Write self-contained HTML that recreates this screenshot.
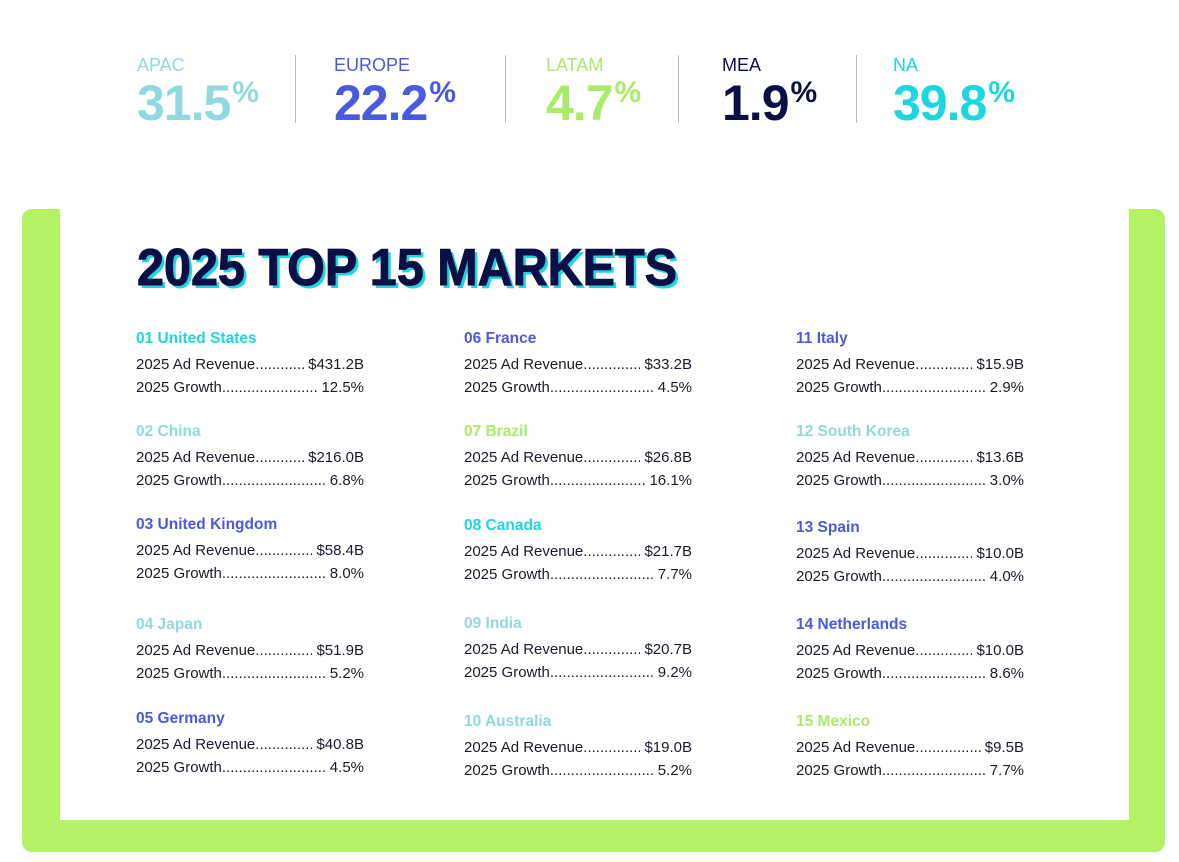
<!DOCTYPE html>
<html><head><meta charset="utf-8">
<style>
body{margin:0;width:1179px;height:862px;background:#fff;position:relative;overflow:hidden;font-family:"Liberation Sans",sans-serif;}
.abs{position:absolute;}
.rlabel{font-size:18px;top:55px;z-index:2;}
.rval{font-size:50px;font-weight:bold;top:74px;letter-spacing:-1px;z-index:2;}
.rval sup{font-size:30px;vertical-align:top;position:relative;top:2px;margin-left:2px;}
.div{width:1px;height:68px;background:#bbb;top:55px;z-index:2;}
.line{font-size:15px;color:#1a1a2e;width:228px;display:flex;white-space:nowrap;overflow:hidden;z-index:2;}
.line .d{flex:1;overflow:hidden;}
.name{font-size:15.5px;font-weight:bold;z-index:2;}
</style></head><body>
<div id="topbar"></div>
<svg class="abs" style="left:0;top:0" width="1179" height="862">
<rect x="22" y="209" width="1143" height="643" rx="10" fill="#b2f264"/>
<rect x="60" y="200" width="1069" height="620" fill="#fff"/>
<text x="140" y="288" font-size="52" font-weight="bold" fill="#1cd6e0" textLength="540" lengthAdjust="spacingAndGlyphs" font-family="Liberation Sans">2025 TOP 15 MARKETS</text>
<text x="137" y="285" font-size="52" font-weight="bold" fill="#0c0f45" stroke="#0c0f45" stroke-width="1" textLength="540" lengthAdjust="spacingAndGlyphs" font-family="Liberation Sans">2025 TOP 15 MARKETS</text>
</svg>
<div id="markets"></div>
<script>
const regions=["APAC","EUROPE","LATAM","MEA","NA"];
const shares=["31.5","22.2","4.7","1.9","39.8"];
const regionColors=["#8fd9df","#4a5ae0","#a9ec6a","#0c0f45","#1cd6e0"];
const regionX=[137,334,546,722,893];
const dividerX=[295,505,678,856];
const markets=["United States","China","United Kingdom","Japan","Germany","France","Brazil","Canada","India","Australia","Italy","South Korea","Spain","Netherlands","Mexico"];
const marketRegion=[4,0,1,0,1,1,2,4,0,0,1,0,1,1,2];
const revenue=["431.2","216.0","58.4","51.9","40.8","33.2","26.8","21.7","20.7","19.0","15.9","13.6","10.0","10.0","9.5"];
const growth=["12.5","6.8","8.0","5.2","4.5","4.5","16.1","7.7","9.2","5.2","2.9","3.0","4.0","8.6","7.7"];
const colX=[136,464,796];
const rowY=[[330,423,516,616,710],[330,423,517,615,713],[330,423,519,616,713]];
const topEl=document.getElementById('topbar');
regions.forEach((r,i)=>{
  const l=document.createElement('div');l.className='abs rlabel';l.style.left=regionX[i]+'px';l.style.color=regionColors[i];l.textContent=r;
  
  
  topEl.appendChild(l);
  const v=document.createElement('div');v.className='abs rval';v.style.left=regionX[i]+'px';v.style.color=regionColors[i];v.innerHTML=shares[i]+'<sup>%</sup>';
  
  
  topEl.appendChild(v);
});
dividerX.forEach(x=>{const d=document.createElement('div');d.className='abs div';d.style.left=x+'px';
  
  
  topEl.appendChild(d);});
const mk=document.getElementById('markets');
const dots='.'.repeat(80);
markets.forEach((name,i)=>{
  const c=Math.floor(i/5),r=i%5,x=colX[c],y=rowY[c][r];
  const n=document.createElement('div');n.className='abs name';n.style.left=x+'px';n.style.top=y+'px';n.style.color=regionColors[marketRegion[i]];
  n.textContent=String(i+1).padStart(2,'0')+' '+name;
  
  
  mk.appendChild(n);
  [["2025 Ad Revenue",'$'+revenue[i]+'B'],["2025 Growth",growth[i]+'%']].forEach((p,k)=>{
    const L=document.createElement('div');L.className='abs line';L.style.left=x+'px';L.style.top=(y+26+k*23)+'px';
    L.innerHTML='<span>'+p[0]+'</span><span class="d">'+dots+'</span><span>&nbsp;'+p[1]+'</span>';
    
    
    mk.appendChild(L);
  });
});
</script>
</body></html>
